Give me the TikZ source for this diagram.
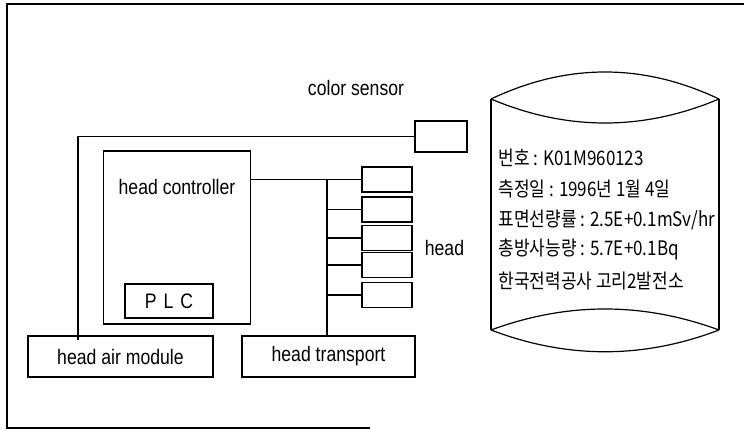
\documentclass[tikz,border=0pt]{standalone}
\usepackage{fontspec}
\setmainfont{Liberation Sans}[FakeStretch=0.84]
\newfontfamily\kor{Noto Sans CJK KR}[FakeStretch=0.85]

\tikzset{every picture/.style={line width=0.9pt}}
\tikzset{
blk/.style={draw, inner sep=0pt, font=\fontsize{15.75}{18}\selectfont},
hd/.style={draw, inner sep=0pt, minimum width=37.5pt, minimum height=18.75pt},
txt/.style={inner sep=0.75pt, font=\fontsize{15.75}{18}\selectfont},
kortxt/.style={anchor=west, inner sep=0.75pt, font=\kor\fontsize{15}{18}\selectfont}}

\begin{document}
\begin{tikzpicture}[x=0.75pt,y=0.75pt,yscale=-1,xscale=1]
\useasboundingbox (0,0) rectangle (744,431);

%Frame
\draw (744,4) -- (7,4) -- (7,428) -- (370,428) ;

% Blocks
\node [blk, minimum width=110.25pt, minimum height=129.75pt] (ctrl) at (177,237.5) {};
\node [txt] (ctrltxt) at (177,187) {head controller};
\node [blk, minimum width=66pt, minimum height=25.5pt] (plc) at (169,301) {P\,\,L\,\,C};
\node [blk, minimum width=138.75pt, minimum height=30.75pt] (air) at (120.5,356.5) {head air module};
\node [blk, minimum width=129.75pt, minimum height=30.75pt] (trans) at (328.5,356.5) {head transport};
\node [blk, minimum width=39pt, minimum height=23.25pt] (sensor) at (441,136.5) {};
\node [txt] (sensortxt) at (356,88) {color sensor};

% Heads
\node [hd] (head1) at (387,179.5) {};
\node [hd] (head2) at (387,209.5) {};
\node [hd] (head3) at (387,238) {};
\node [hd] (head4) at (387,265) {};
\node [hd] (head5) at (387,295) {};
\node [txt] (headtxt) at (444.5,248) {head};

% Connectors
\coordinate (airtap) at (78,340.5) ;
\coordinate (bustop) at (327,179.5) ;
\draw (sensor.west) -| (airtap) ;
\draw (ctrl.east |- head1.west) -- (head1.west) ;
\draw (bustop) -- (bustop |- trans.north) ;
\draw (bustop |- head2.west) -- (head2.west) ;
\draw (bustop |- head3.west) -- (head3.west) ;
\draw (bustop |- head4.west) -- (head4.west) ;
\draw (bustop |- head5.west) -- (head5.west) ;

%Shape: Drum
\draw (491,99) .. controls (567,63) and (643,63) .. (719,99) ;
\draw (491,99) .. controls (567,131) and (643,131) .. (719,99) ;
\draw (491,330) .. controls (567,302) and (643,302) .. (719,330) ;
\draw (491,330) .. controls (567,359) and (643,359) .. (719,330) ;
\draw (491,99) -- (491,330) ;
\draw (719,99) -- (719,330) ;

% Text Node
\node [kortxt] (l1) at (497,158) {번호 : K01M960123};
\node [kortxt] (l2) at (497,189) {측정일 : 1996년 1월 4일};
\node [kortxt] (l3) at (497,220) {표면선량률 : 2.5E+0.1mSv/hr};
\node [kortxt] (l4) at (497,250) {총방사능량 : 5.7E+0.1Bq};
\node [kortxt] (l5) at (497,281) {한국전력공사 고리2발전소};

\end{tikzpicture}
\end{document}
